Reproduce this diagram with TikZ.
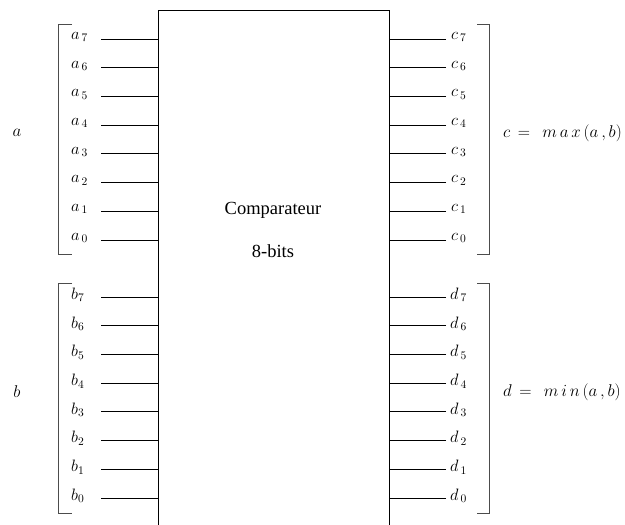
\RequirePackage{fix-cm}
\documentclass[tikz,border=0pt]{standalone}
\usepackage{fontspec}
\setmainfont{Liberation Serif}
\tikzset{
  wire/.style={line width=0.8pt},
  brk/.style={line width=0.8pt, black!70},
  pinlbl/.style={inner sep=0pt, font=\fontsize{16.5}{19}\selectfont},
  biglbl/.style={inner sep=0pt, font=\fontsize{17}{20}\selectfont},
  title/.style={inner sep=0pt, font=\fontsize{18.5}{21}\selectfont},
}
\begin{document}
\begin{tikzpicture}[x=1pt,y=-1pt]
\useasboundingbox (0,0) rectangle (625,525);
\clip (0,0) rectangle (625,525);
\node[draw, line width=0.8pt, minimum width=231pt, minimum height=540pt, anchor=north west, inner sep=0pt] (box) at (158,10) {};
\node[title] (t1) at (273,210) {Comparateur};
\node[title] (t2) at (273,251) {8-bits};
\foreach \i in {0,...,7}{
  \pgfmathsetmacro{\ya}{39+(7-\i)*28.7}
  \pgfmathsetmacro{\yb}{297+(7-\i)*28.7}
  \node[pinlbl, anchor=west] (a\i) at (71,\ya-2) {$a_{\,\i}$};
  \node[pinlbl, anchor=west] (b\i) at (71,\yb-2) {$b_{\i}$};
  \node[pinlbl, anchor=west] (c\i) at (451,\ya-2) {$c_{\,\i}$};
  \node[pinlbl, anchor=west] (d\i) at (450,\yb-2) {$d_{\,\i}$};
  \coordinate (pa\i) at (101,\ya);
  \coordinate (pb\i) at (101,\yb);
  \coordinate (pc\i) at (446,\ya);
  \coordinate (pd\i) at (446,\yb);
  \draw[wire] (pa\i) -- (pa\i -| box.west);
  \draw[wire] (pb\i) -- (pb\i -| box.west);
  \draw[wire] (pc\i) -- (pc\i -| box.east);
  \draw[wire] (pd\i) -- (pd\i -| box.east);
}
% brackets
\coordinate (la1) at (72,24); \coordinate (la2) at (72,254);
\coordinate (lb1) at (72,283); \coordinate (lb2) at (72,513);
\coordinate (rc1) at (477,24); \coordinate (rc2) at (477,254);
\coordinate (rd1) at (477,283); \coordinate (rd2) at (477,513);
\draw[brk] (la1) -- ++(-14,0) |- (la2);
\draw[brk] (lb1) -- ++(-14,0) |- (lb2);
\draw[brk] (rc1) -- ++(12,0) |- (rc2);
\draw[brk] (rd1) -- ++(12,0) |- (rd2);
\node[biglbl] (A) at (17,133) {$a$};
\node[biglbl] (B) at (17,392) {$b$};
\node[biglbl, anchor=west] (C) at (503,133) {$c \,=\;\, m\,a\,x\,(a\,,b)$};
\node[biglbl, anchor=west] (D) at (503,392) {$d \,=\;\, m\,i\,n\,(a\,,b)$};
\end{tikzpicture}
\end{document}
